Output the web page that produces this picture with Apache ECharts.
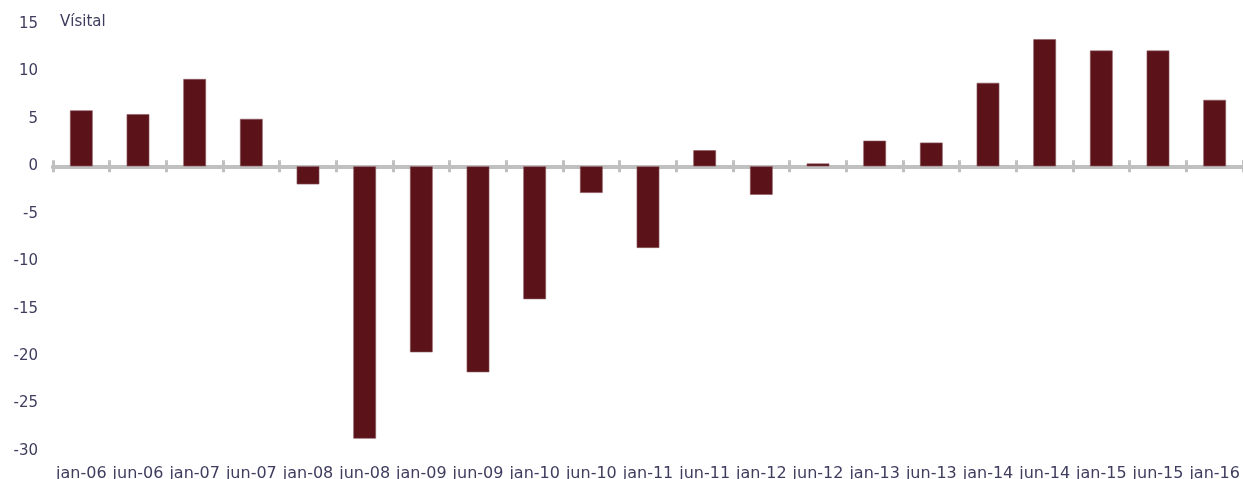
<!DOCTYPE html>
<html><head><meta charset="utf-8">
<script src="https://cdn.jsdelivr.net/npm/echarts@6/dist/echarts.min.js"></script>
<style>html,body{margin:0;padding:0;background:#fff}#c{width:1243px;height:479px}</style>
</head><body><div id="c"></div>
<script>
const categories = ['jan-06','jun-06','jan-07','jun-07','jan-08','jun-08','jan-09','jun-09','jan-10','jun-10','jan-11','jun-11','jan-12','jun-12','jan-13','jun-13','jan-14','jun-14','jan-15','jun-15','jan-16'];
const values = [5.9, 5.5, 9.2, 5.0, -1.9, -28.7, -19.6, -21.7, -14.0, -2.8, -8.6, 1.7, -3.0, 0.3, 2.7, 2.5, 8.8, 13.4, 12.2, 12.2, 7.0];
const yTicks = {min: -30, max: 15, interval: 5};
const yName = 'Vísital';

const textColor = '#3f3d5e';
const font = 'DejaVu Sans';
const chart = echarts.init(document.getElementById('c'));
const lineGrey = '#c0c0c0';
chart.setOption({
  animation: false,
  grid: {left: 53, right: 0, top: 24, bottom: 28, containLabel: false, outerBoundsMode: 'none'},
  xAxis: [
    {type: 'category', data: categories, boundaryGap: true, position: 'bottom',
     axisLine: {show: true, onZero: true, onZeroAxisIndex: 0, lineStyle: {color: lineGrey, width: 4}},
     axisTick: {show: true, inside: false, length: 6, lineStyle: {color: lineGrey, width: 3}},
     axisLabel: {show: false}},
    {type: 'category', data: categories, boundaryGap: true, position: 'bottom',
     axisLine: {show: true, onZero: true, onZeroAxisIndex: 0, lineStyle: {color: lineGrey, width: 4}},
     axisTick: {show: true, inside: true, length: 6, lineStyle: {color: lineGrey, width: 3}},
     axisLabel: {show: false}},
    {type: 'category', data: categories, boundaryGap: true, position: 'bottom',
     axisLine: {show: false, onZero: false}, axisTick: {show: false},
     axisLabel: {show: true, interval: 0, color: textColor, fontFamily: font, fontSize: 16, margin: 15, hideOverlap: false}}
  ],
  yAxis: {type: 'value', min: yTicks.min, max: yTicks.max, interval: yTicks.interval,
    axisLine: {show: false}, axisTick: {show: false}, splitLine: {show: false},
    axisLabel: {color: textColor, fontFamily: font, fontSize: 15, margin: 15}},
  graphic: [{type: 'text', left: 60, top: 15, style: {text: yName, fill: textColor, font: '15px "DejaVu Sans"'}}],
  series: [{type: 'bar', data: values, xAxisIndex: 0, barWidth: '40%',
    itemStyle: {color: '#5b1219', borderColor: '#8c5a5f', borderWidth: 0.6}}]
});
</script></body></html>
